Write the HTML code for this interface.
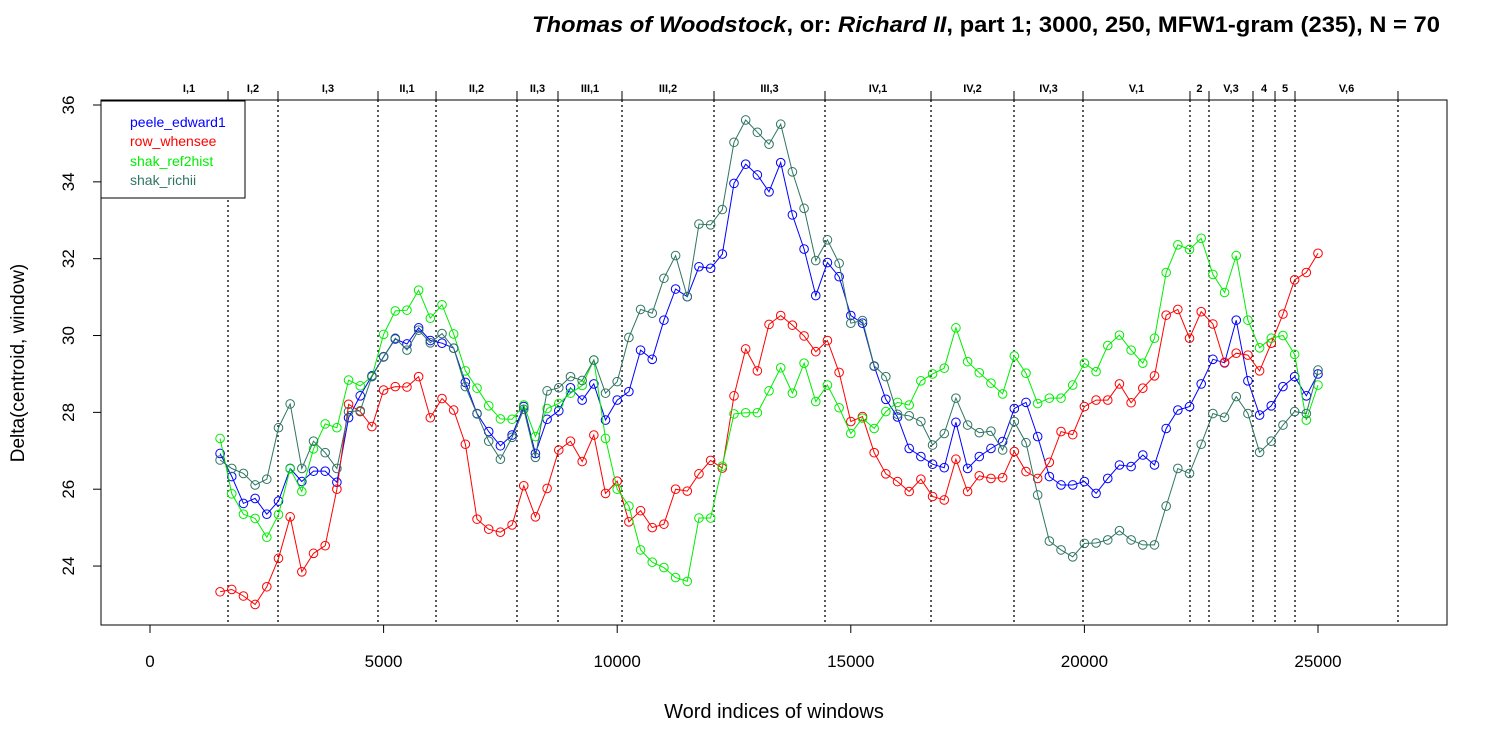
<!DOCTYPE html>
<html><head><meta charset="utf-8"><style>
body{margin:0;background:#fff;}
svg{display:block;font-family:"Liberation Sans",Arial,sans-serif;}
</style></head><body>
<svg id="chart" width="1500" height="750" viewBox="0 0 1500 750">
<text x="1440" y="32" text-anchor="end" font-size="22" font-weight="bold" textLength="908" lengthAdjust="spacingAndGlyphs"><tspan font-style="italic">Thomas of Woodstock</tspan>, or: <tspan font-style="italic">Richard II</tspan>, part 1; 3000, 250, MFW1-gram (235), N = 70</text>
<rect x="101" y="100" width="1346" height="525" fill="none" stroke="#000" stroke-width="1"/>
<g id="grid"></g>
<g id="xaxis"></g>
<g id="yaxis"></g>
<g id="series"></g>
<text x="774" y="718" text-anchor="middle" font-size="20">Word indices of windows</text>
<text transform="translate(24,363) rotate(-90)" text-anchor="middle" font-size="19">Delta(centroid, window)</text>
<g>
<rect x="101" y="101" width="144" height="97" fill="#fff" stroke="#000"/>
<text x="130" y="127" font-size="14" fill="#0000ff">peele_edward1</text>
<text x="130" y="146" font-size="14" fill="#ff0000">row_whensee</text>
<text x="130" y="166" font-size="14" fill="#00ee00">shak_ref2hist</text>
<text x="130" y="185" font-size="14" fill="#2e7562">shak_richii</text>
</g>
</svg>
<script>
const xStart = 1500, xStep = 250;
const peele = [26.93,26.33,25.63,25.76,25.35,25.69,26.54,26.2,26.47,26.47,26.18,27.86,28.43,28.95,29.45,29.91,29.78,30.2,29.87,29.8,29.67,28.78,27.97,27.5,27.13,27.41,28.15,26.93,27.82,28.04,28.64,28.32,28.74,27.8,28.32,28.54,29.62,29.38,30.4,31.21,31.01,31.79,31.75,32.12,33.96,34.46,34.18,33.74,34.5,33.14,32.25,31.04,31.9,31.53,30.52,30.32,29.2,28.34,27.88,27.06,26.85,26.65,26.56,27.74,26.54,26.85,27.06,27.24,28.1,28.26,27.37,26.33,26.11,26.11,26.2,25.89,26.28,26.63,26.59,26.89,26.63,27.58,28.06,28.15,28.74,29.38,29.29,30.4,28.82,27.93,28.17,28.67,28.93,28.43,29.0];
const row = [23.33,23.39,23.22,23.0,23.46,24.2,25.28,23.85,24.33,24.53,26.0,28.21,28.02,27.63,28.58,28.67,28.66,28.93,27.86,28.36,28.06,27.17,25.22,24.96,24.88,25.07,26.09,25.28,26.02,27.02,27.25,26.72,27.41,25.89,26.21,25.15,25.44,25.0,25.09,26.0,25.95,26.4,26.75,26.55,28.43,29.65,29.08,30.29,30.52,30.27,29.99,29.58,29.87,29.04,27.76,27.89,26.95,26.4,26.2,25.94,26.26,25.81,25.72,26.78,25.94,26.35,26.28,26.3,26.98,26.46,26.28,26.7,27.5,27.42,28.15,28.32,28.32,28.74,28.25,28.63,28.95,30.53,30.68,29.93,30.62,30.3,29.3,29.54,29.49,29.08,29.8,30.56,31.45,31.64,32.14];
const ref2hist = [27.32,25.88,25.35,25.24,24.75,25.34,26.53,25.94,27.05,27.7,27.6,28.84,28.69,28.93,30.03,30.64,30.66,31.18,30.45,30.8,30.04,29.08,28.63,28.17,27.83,27.82,28.19,27.37,28.1,28.23,28.5,28.7,29.36,27.32,26.0,25.56,24.42,24.1,23.96,23.7,23.6,25.25,25.25,26.6,27.96,27.99,27.99,28.56,29.16,28.5,29.28,28.28,28.71,28.12,27.45,27.85,27.58,28.02,28.26,28.19,28.82,29.0,29.15,30.2,29.32,29.03,28.76,28.48,29.47,29.02,28.23,28.37,28.37,28.71,29.28,29.06,29.74,30.01,29.62,29.28,29.93,31.64,32.36,32.24,32.53,31.59,31.12,32.08,30.4,29.68,29.93,30.0,29.51,27.8,28.71];
const richii = [26.76,26.54,26.41,26.11,26.26,27.6,28.22,26.54,27.25,26.95,26.54,28.02,28.04,28.93,29.44,29.93,29.62,30.14,29.81,30.05,29.67,28.67,27.96,27.25,26.78,27.35,28.08,26.83,28.56,28.64,28.93,28.83,29.36,28.5,28.8,29.95,30.68,30.58,31.49,32.08,31.01,32.9,32.88,33.28,35.03,35.61,35.29,34.98,35.5,34.26,33.31,31.95,32.49,31.88,30.32,30.39,29.21,28.93,27.95,27.91,27.76,27.15,27.45,28.37,27.67,27.47,27.51,27.02,27.76,27.21,25.85,24.65,24.42,24.24,24.59,24.6,24.68,24.92,24.68,24.55,24.55,25.56,26.54,26.41,27.17,27.97,27.87,28.41,27.97,26.96,27.25,27.67,28.02,27.97,29.1];
const boundaries = [1670,2740,4880,6122,7855,8733,10103,12072,14448,16717,18493,19970,22260,22667,23609,24080,24508,26712];
const sceneLabels = ["I,1","I,2","I,3","II,1","II,2","II,3","III,1","III,2","III,3","IV,1","IV,2","IV,3","V,1","2","V,3","4","5","V,6"];
const xTicks = [0,5000,10000,15000,20000,25000];
const yTicks = [24,26,28,30,32,34,36];

const NS = "http://www.w3.org/2000/svg";
const xs = v => 150 + v * 0.046720;
const ys = v => 105 + (36 - v) * 38.42;
function mk(tag, attrs, parent){const e=document.createElementNS(NS,tag);for(const k in attrs)e.setAttribute(k,attrs[k]);parent.appendChild(e);return e;}

const grid = document.getElementById('grid');
let prev = 0;
boundaries.forEach((b,i)=>{
  const l = mk('line',{x1:xs(b),x2:xs(b),y1:100,y2:625,stroke:'#000','stroke-width':1.3,'stroke-dasharray':'2,3'},grid);
  
  
  const t = mk('line',{x1:xs(b),x2:xs(b),y1:91,y2:100,stroke:'#000'},grid);
  
  
  const lb = mk('text',{x:(xs(prev)+xs(b))/2,y:92,'text-anchor':'middle','font-size':11,'font-weight':'bold'},grid);
  lb.textContent = sceneLabels[i];
  
  
  prev = b;
});

const xa = document.getElementById('xaxis');
mk('line',{x1:xs(0),x2:xs(25000),y1:625,y2:625,stroke:'#000'},xa);
xTicks.forEach(v=>{
  const t = mk('line',{x1:xs(v),x2:xs(v),y1:625,y2:633,stroke:'#000'},xa);
  
  
  const lb = mk('text',{x:xs(v),y:667,'text-anchor':'middle','font-size':17},xa);
  lb.textContent = v;
  
  
});
const ya = document.getElementById('yaxis');
yTicks.forEach(v=>{
  const t = mk('line',{x1:93,x2:101,y1:ys(v),y2:ys(v),stroke:'#000'},ya);
  
  
  const lb = mk('text',{transform:`translate(74,${ys(v)}) rotate(-90)`,'text-anchor':'middle','font-size':17},ya);
  lb.textContent = v;
  
  
});

const sg = document.getElementById('series');
[[peele,'#0000ff','peele'],[row,'#ff0000','row'],[ref2hist,'#00ee00','ref2hist'],[richii,'#2e7562','richii']].forEach(([arr,col,nm])=>{
  const g = mk('g',{},sg);
  
  
  const pts = arr.map((v,i)=>xs(xStart+i*xStep).toFixed(1)+','+ys(v).toFixed(1)).join(' ');
  const pl = mk('polyline',{points:pts,fill:'none',stroke:col,'stroke-width':1},g);
  
  
  arr.forEach((v,i)=>{
    const c = mk('circle',{cx:xs(xStart+i*xStep),cy:ys(v),r:4.3,fill:'none',stroke:col,'stroke-width':1},g);
    
    
  });
});
</script>
</body></html>
